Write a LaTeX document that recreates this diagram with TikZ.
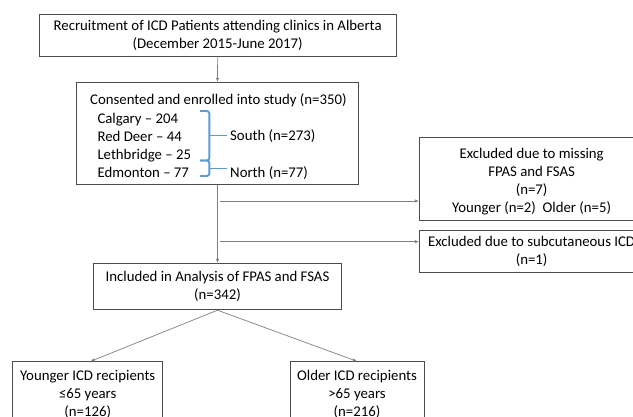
\documentclass[tikz,border=0pt]{standalone}
\usepackage{fontspec}
\setmainfont{Carlito}
\usetikzlibrary{arrows.meta}
\definecolor{bracecol}{HTML}{5B9BD5}
\tikzset{
  box/.style={draw=black!70, line width=0.8pt, inner sep=0pt, align=center,
    font=\fontsize{14.8}{18}\selectfont},
  inner/.style={inner sep=0pt, align=center, font=\fontsize{14.8}{18}\selectfont},
  txt/.style={inner sep=0pt, anchor=base west, font=\fontsize{14.8}{18}\selectfont},
  conn/.style={draw=black!50, line width=0.7pt, -{Latex[length=4pt,width=3.5pt]}},
  brace/.style={draw=bracecol, line width=1.9pt, rounded corners=2.5pt},
}
\begin{document}
\begin{tikzpicture}[x=1pt,y=-1pt]
\useasboundingbox (0,0) rectangle (633,417);
\clip (0,0) rectangle (633,417);
\fill[white] (0,0) rectangle (633,417);
% boxes
\node[box, minimum width=357.3pt, minimum height=41.3pt] (b1) at (217.65,35.35)
  {Recruitment of ICD Patients attending clinics in Alberta\\(December 2015-June 2017)};
\node[box, minimum width=281.6pt, minimum height=102pt] (b2) at (217.5,133.3) {};
\node[box, minimum width=248.4pt, minimum height=46.6pt] (b3) at (217.5,286.5)
  {Included in Analysis of FPAS and FSAS\\(n=342)};
\node[box, minimum width=224.7pt, minimum height=83.4pt] (b4) at (531.65,179) {};
\node[inner] (b4t) at (531.65,182)
  {Excluded due to missing\\FPAS and FSAS\\(n=7)\\Younger (n=2)\ \ Older (n=5)};
\node[box, minimum width=224.7pt, minimum height=42pt] (b5) at (531.65,251)
  {Excluded due to subcutaneous ICD\\(n=1)};
\node[box, minimum width=150pt, minimum height=64.6pt] (by) at (87.7,394)
  {Younger ICD recipients\\≤65 years\\(n=126)};
\node[box, minimum width=134pt, minimum height=64.6pt] (bo) at (357,394)
  {Older ICD recipients\\>65 years\\(n=216)};
% text of box 2
\node[txt] (t0) at (90,105) {Consented and enrolled into study (n=350)};
\node[txt] (t1) at (97.3,123.3) {Calgary -- 204};
\node[txt] (t2) at (97.3,141.5) {Red Deer -- 44};
\node[txt] (t3) at (97.3,159.3) {Lethbridge -- 25};
\node[txt] (t4) at (97.3,177.3) {Edmonton -- 77};
\node[txt] (ts) at (230,140.5) {South (n=273)};
\node[txt] (tn) at (230,177.3) {North (n=77)};
% braces
\draw[brace] (200,111) -- (209.3,111) -- (209.3,160.5) -- (200,160.5);
\draw[brace] (209.3,135.5) -- (227.3,135.5);
\draw[brace] (200,160.5) -- (209.3,160.5) -- (209.3,176) -- (200,176);
\draw[brace] (209.3,168.5) -- (227.3,168.5);
% connectors
\draw[conn] (b1.south) -- (b2.north);
\draw[conn] (b2.south) -- (b3.north);
\coordinate (s1) at (220,201);
\coordinate (s2) at (220,241.7);
\draw[conn] (s1) -- (s1 -| b4.west);
\draw[conn] (s2) -- (s2 -| b5.west);
\draw[conn] (b3.south) -- (by.north -| 90.7,0);
\draw[conn] (b3.south) -- (bo.north);
\end{tikzpicture}
\end{document}
